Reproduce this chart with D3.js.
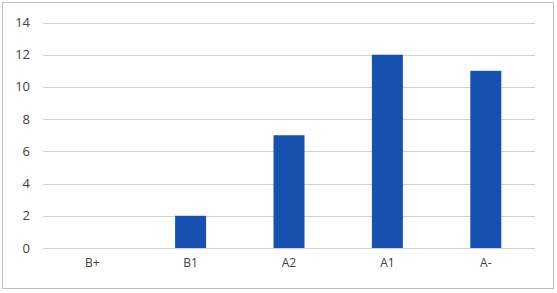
<!DOCTYPE html>
<html>
<head>
<meta charset="utf-8">
<script src="https://cdn.jsdelivr.net/npm/d3@7"></script>
<style>
  body { margin: 0; background: #fff; }
</style>
</head>
<body>
<div id="chart"></div>
<script>
var categories = ["B+", "B1", "A2", "A1", "A-"];
var values = [0, 2, 7, 12, 11];
var yTicks = [0, 2, 4, 6, 8, 10, 12, 14];

var width = 557, height = 293;
var margin = { top: 22.5, right: 22, bottom: 45, left: 43 };

var svg = d3.select("#chart")
    .append("svg")
    .attr("width", width)
    .attr("height", height);

// outer frame
svg.append("rect")
    .attr("x", 2.5)
    .attr("y", 2.5)
    .attr("width", 551)
    .attr("height", 286)
    .attr("fill", "#fff")
    .attr("stroke", "#bfbfbf");

var x = d3.scaleBand()
    .domain(categories)
    .range([margin.left, width - margin.right])
    .paddingInner(0.685)
    .paddingOuter(0.3425);

var y = d3.scaleLinear()
    .domain([0, 14])
    .range([height - margin.bottom, margin.top]);

// gridlines
svg.append("g")
    .selectAll("line")
    .data(yTicks)
    .enter()
    .append("line")
    .attr("x1", margin.left)
    .attr("x2", width - margin.right)
    .attr("y1", function (d) { return Math.round(y(d)) + 0.5; })
    .attr("y2", function (d) { return Math.round(y(d)) + 0.5; })
    .attr("stroke", "#d0d0d0")
    .attr("stroke-width", 1);

// y labels
svg.append("g")
    .selectAll("text")
    .data(yTicks)
    .enter()
    .append("text")
    .attr("x", 30)
    .attr("y", function (d) { return y(d); })
    .attr("dy", "0.35em")
    .attr("text-anchor", "end")
    .attr("font-family", "Open Sans, sans-serif")
    .attr("font-size", 13)
    .attr("fill", "#404040")
    .text(function (d) { return d; });

// bars
svg.append("g")
    .selectAll("rect")
    .data(values)
    .enter()
    .append("rect")
    .attr("x", function (d, i) { return x(categories[i]); })
    .attr("y", function (d) { return y(d); })
    .attr("width", x.bandwidth())
    .attr("height", function (d) { return y(0) - y(d); })
    .attr("fill", "#1651b0");

// x labels
svg.append("g")
    .selectAll("text")
    .data(categories)
    .enter()
    .append("text")
    .attr("x", function (d) { return x(d) + x.bandwidth() / 2; })
    .attr("y", 263)
    .attr("dy", "0.35em")
    .attr("text-anchor", "middle")
    .attr("font-family", "Open Sans, sans-serif")
    .attr("font-size", 12)
    .attr("fill", "#404040")
    .text(function (d) { return d; });
</script>
</body>
</html>
